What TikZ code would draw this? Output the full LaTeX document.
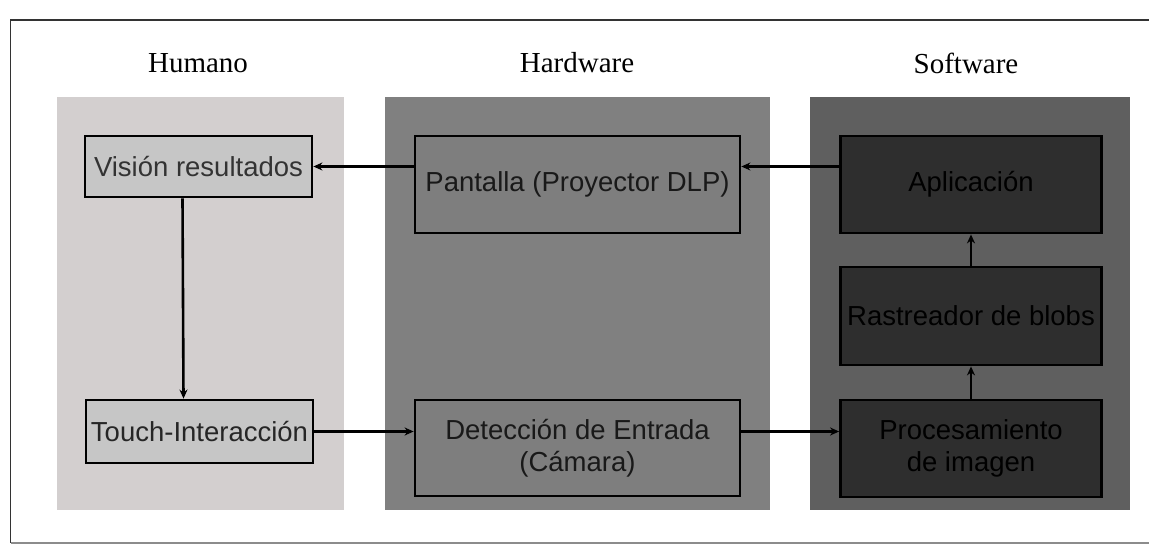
\documentclass[tikz,border=0pt]{standalone}
\usepackage{fontspec}
\setmainfont{Liberation Serif}
\setsansfont{Liberation Sans}
\usetikzlibrary{arrows.meta}

\definecolor{fondoHumano}{RGB}{211,207,207}
\definecolor{fondoHard}{RGB}{128,128,128}
\definecolor{fondoSoft}{RGB}{95,95,95}
\definecolor{cajaHumano}{RGB}{198,198,198}
\definecolor{cajaHard}{RGB}{126,126,126}
\definecolor{cajaSoft}{RGB}{46,46,46}

\tikzset{
  caja/.style={draw=black, line width=2.8pt, align=center, inner sep=2pt,
    font=\sffamily\fontsize{27.5}{32}\selectfont},
  titulo/.style={font=\rmfamily\fontsize{29}{34}\selectfont},
  flecha/.style={line width=2.6pt, -{Stealth[length=9pt,width=8pt]}}
}

\begin{document}
\begin{tikzpicture}[x=1pt,y=-1pt]
  \useasboundingbox (0,0) rectangle (1149,545);
  \fill[white] (0,0) rectangle (1149,545);
  % marco
  \draw[line width=1.6pt, black!80] (1149,20) -- (10.5,20) -- (10.5,543);
  \draw[line width=1.6pt, black!45] (10.5,543) -- (1149,543);

  % columnas
  \fill[fondoHumano] (57,97) rectangle (344,510);
  \fill[fondoHard] (385,97) rectangle (770,510);
  \fill[fondoSoft] (810,97) rectangle (1130,510);

  \node[titulo] (humano) at (198,63) {Humano};
  \node[titulo] (hardware) at (577,63) {Hardware};
  \node[titulo] (software) at (966,63) {Software};

  % Humano
  \node[caja, fill=cajaHumano, text=black!80, minimum width=227pt, minimum height=61pt]
    (vision) at (198.5,166.5) {Visión resultados};
  \node[caja, fill=cajaHumano, text=black!85, minimum width=227pt, minimum height=63pt]
    (touch) at (199.5,431.5) {Touch-Interacción};

  % Hardware
  \node[caja, fill=cajaHard, text=black!90, minimum width=325pt, minimum height=97pt]
    (pantalla) at (577.5,184.5) {Pantalla (Proyector DLP)};
  \node[caja, fill=cajaHard, text=black!90, minimum width=325pt, minimum height=96pt]
    (deteccion) at (577.5,448) {Detección de Entrada\\(Cámara)};

  % Software
  \node[caja, fill=cajaSoft, text=black, minimum width=261pt, minimum height=97pt]
    (aplicacion) at (971,184.5) {Aplicación};
  \node[caja, fill=cajaSoft, text=black, minimum width=261pt, minimum height=98pt]
    (rastreador) at (971,316) {Rastreador de blobs};
  \node[caja, fill=cajaSoft, text=black, minimum width=261pt, minimum height=97pt]
    (procesamiento) at (971,448.5) {Procesamiento\\de imagen};

  % flechas
  \draw[flecha] (aplicacion.west |- vision.east) -- (pantalla.east |- vision.east);
  \draw[flecha] (pantalla.west |- vision.east) -- (vision.east);
  \draw[flecha] ([xshift=-16pt]vision.south) -- ([xshift=-16pt]touch.north);
  \draw[flecha] (touch.east) -- (deteccion.west |- touch.east);
  \draw[flecha] (deteccion.east |- touch.east) -- (procesamiento.west |- touch.east);
  \draw[flecha] (procesamiento.north) -- (rastreador.south);
  \draw[flecha] (rastreador.north) -- (aplicacion.south);
\end{tikzpicture}
\end{document}
